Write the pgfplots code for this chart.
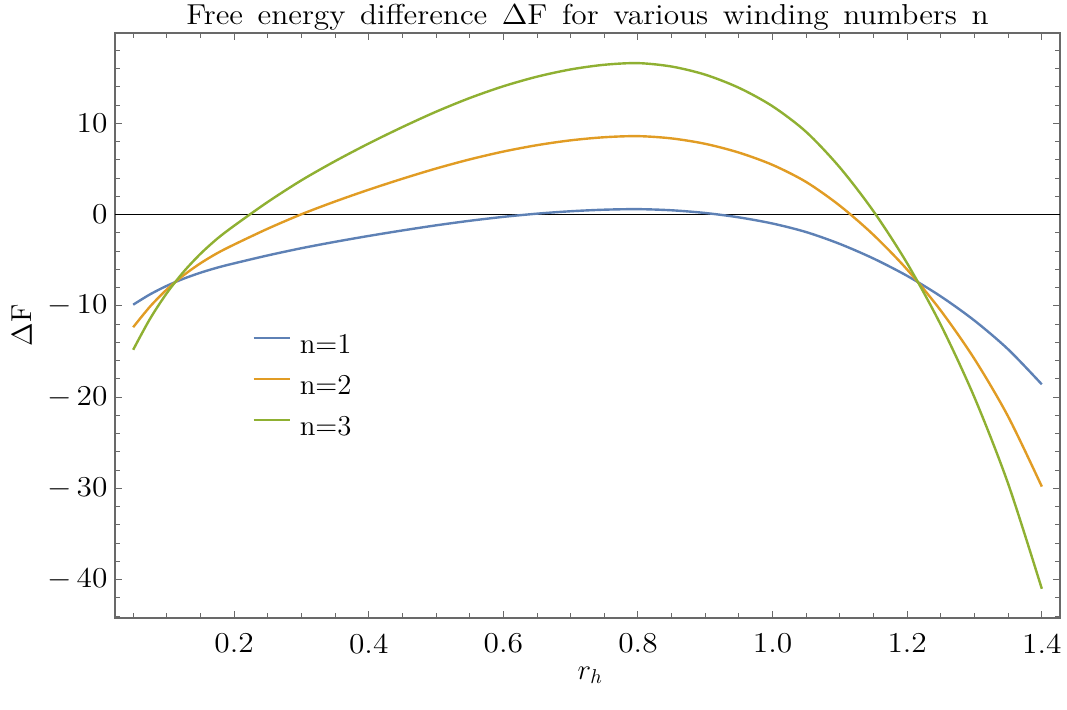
\documentclass[border=0pt]{standalone}
\usepackage{pgfplots}
\pgfplotsset{compat=1.18}
\definecolor{c1}{RGB}{94,129,181}
\definecolor{c2}{RGB}{225,156,36}
\definecolor{c3}{RGB}{143,176,50}
\definecolor{framegray}{RGB}{105,105,105}
\newcommand{\sx}[1]{\scalebox{1.09}[1]{#1}}

\begin{document}
\fontsize{14.4}{17}\selectfont
\begin{tikzpicture}
\path[use as bounding box] (-57.5pt,-45.5pt) rectangle (476pt,309pt);
\begin{axis}[
  at={(0,0)}, anchor=south west,
  scale only axis,
  width=472.5pt, height=292.5pt,
  xmin=0.023, xmax=1.427,
  ymin=-44.2, ymax=19.9,
  xtick={0.2,0.4,0.6,0.8,1.0,1.2,1.4},
  xticklabels={\sx{0.2},\sx{0.4},\sx{0.6},\sx{0.8},\sx{1.0},\sx{1.2},\sx{1.4}},
  minor xtick={0.05,0.1,0.15,0.25,0.3,0.35,0.45,0.5,0.55,0.65,0.7,0.75,0.85,0.9,0.95,1.05,1.1,1.15,1.25,1.3,1.35},
  ytick={-40,-30,-20,-10,0,10},
  yticklabels={\sx{$-\mkern3mu40$},\sx{$-\mkern3mu30$},\sx{$-\mkern3mu20$},\sx{$-\mkern3mu10$},\sx{$0$},\sx{$10$}},
  minor ytick={-44,-42,...,18},
  tick align=inside,
  major tick length=3.5pt,
  minor tick length=2.3pt,
  tick style={framegray, line width=0.5pt},
  axis line style={framegray, line width=0.6pt},
  xticklabel style={yshift=-2.8pt},
  yticklabel style={xshift=1.2pt},
  title={\sx{\makebox[368pt][s]{Free energy difference $\Delta$F for various winding numbers n}}},
  title style={at={(axis description cs:0.5,1)}, anchor=base, yshift=-1.5pt},
  xlabel={$r_h$},
  xlabel style={at={(axis description cs:0.503,-0.0974)}, anchor=center},
  ylabel={$\Delta$F},
  ylabel style={at={(axis description cs:-0.0984,0.5)}, anchor=center},
  legend style={draw=none, fill=none, inner sep=0pt,
    at={(axis description cs:0.145,0.485)}, anchor=north west,
    row sep=11pt, column sep=4.5pt,
    nodes={inner sep=0pt, text height=9.5pt, text depth=0pt}},
  legend cell align=left,
  legend image code/.code={\draw[#1] (0pt,3.2pt) -- (18pt,3.2pt);},
]
\addplot[black, line width=0.6pt, forget plot] coordinates {(0.023,0) (1.427,0)};

\addplot[c1, line width=1.2pt, smooth] coordinates {
(0.05,-9.87) (0.075,-8.74) (0.1,-7.80) (0.125,-7.02) (0.15,-6.365) (0.175,-5.81)
(0.2,-5.34) (0.25,-4.47) (0.3,-3.68) (0.35,-2.98) (0.4,-2.335) (0.45,-1.735)
(0.5,-1.175) (0.55,-0.675) (0.6,-0.245) (0.65,0.105) (0.7,0.37) (0.75,0.54)
(0.8,0.60) (0.85,0.475) (0.9,0.178) (0.95,-0.302) (1.0,-0.977) (1.05,-1.915)
(1.1,-3.215) (1.15,-4.815) (1.2,-6.715) (1.25,-8.965) (1.3,-11.615) (1.35,-14.765)
(1.4,-18.60)};
\addlegendentry{n=1}

\addplot[c2, line width=1.2pt, smooth] coordinates {
(0.05,-12.34) (0.075,-10.08) (0.1,-8.20) (0.125,-6.64) (0.15,-5.33) (0.175,-4.22)
(0.2,-3.28) (0.25,-1.54) (0.3,0.04) (0.35,1.44) (0.4,2.73) (0.45,3.93)
(0.5,5.05) (0.55,6.05) (0.6,6.91) (0.65,7.61) (0.7,8.14) (0.75,8.48)
(0.8,8.60) (0.85,8.35) (0.9,7.756) (0.95,6.796) (1.0,5.446) (1.05,3.57)
(1.1,0.97) (1.15,-2.23) (1.2,-6.03) (1.25,-10.53) (1.3,-15.83) (1.35,-22.13)
(1.4,-29.80)};
\addlegendentry{n=2}

\addplot[c3, line width=1.2pt, smooth] coordinates {
(0.05,-14.81) (0.075,-11.42) (0.1,-8.60) (0.125,-6.26) (0.15,-4.295) (0.175,-2.63)
(0.2,-1.22) (0.25,1.39) (0.3,3.76) (0.35,5.86) (0.4,7.795) (0.45,9.595)
(0.5,11.275) (0.55,12.775) (0.6,14.065) (0.65,15.115) (0.7,15.91) (0.75,16.42)
(0.8,16.60) (0.85,16.225) (0.9,15.334) (0.95,13.894) (1.0,11.869) (1.05,9.055)
(1.1,5.155) (1.15,0.355) (1.2,-5.345) (1.25,-12.095) (1.3,-20.045) (1.35,-29.495)
(1.4,-41.00)};
\addlegendentry{n=3}
\end{axis}
\end{tikzpicture}
\end{document}
